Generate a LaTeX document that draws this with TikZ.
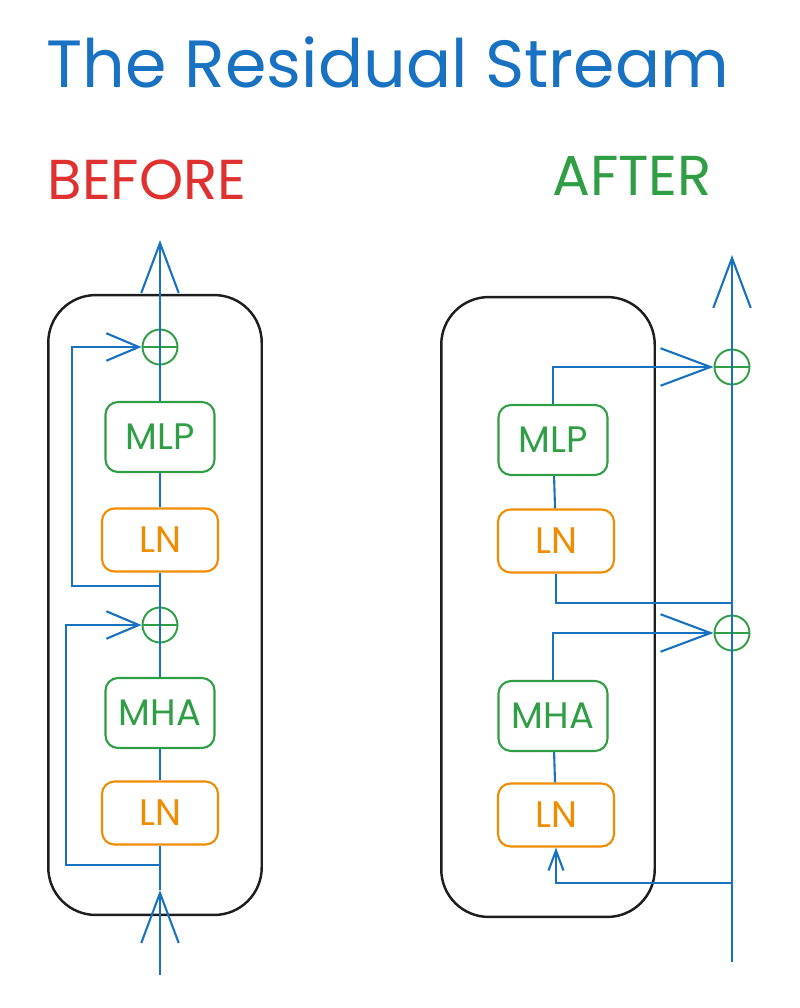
\documentclass[tikz,border=0pt]{standalone}
\usepackage{fontspec}
\setmainfont{Poppins}
\usetikzlibrary{arrows.meta}

\definecolor{exblue}{HTML}{1971C2}
\definecolor{exgreen}{HTML}{2F9E44}
\definecolor{exorange}{HTML}{F08C00}
\definecolor{exred}{HTML}{E03131}
\definecolor{exblack}{HTML}{1E1E1E}

\begin{document}
\begin{tikzpicture}[
    x=0.02cm, y=-0.02cm,
    block/.style={rectangle, draw, rounded corners=0.25cm, line width=1.2pt, font=\fontsize{21}{24}\selectfont, align=center},
    sublayer/.style={block, draw=exgreen, text=exgreen, minimum width=2.18cm, minimum height=1.4cm},
    norm/.style={block, draw=exorange, text=exorange, minimum width=2.32cm, minimum height=1.26cm},
    plus/.style={circle, draw=exgreen, line width=1.1pt, minimum size=0.7cm, inner sep=0pt,
        path picture={\draw[exgreen, line width=1.1pt] (path picture bounding box.north) -- (path picture bounding box.south)
            (path picture bounding box.west) -- (path picture bounding box.east);}},
    layer/.style={rectangle, draw=exblack, line width=1.4pt, rounded corners=0.95cm, minimum width=4.27cm, minimum height=12.4cm},
    flow/.style={draw=exblue, line width=1.2pt},
    bigarrow/.style={flow, -{Straight Barb[length=1cm, width=0.75cm]}},
    smallarrow/.style={flow, -{Straight Barb[length=0.65cm, width=0.55cm]}},
    tinyarrow/.style={flow, -{Straight Barb[length=0.4cm, width=0.3cm]}}
]
    \useasboundingbox (0,0) rectangle (799,1008);

    \node[text=exblue, font=\fontsize{38}{44}\selectfont] (title) at (388,62) {The Residual Stream};
    \node[text=exred, font=\fontsize{32}{36}\selectfont] (before) at (147,180) {BEFORE};
    \node[text=exgreen, font=\fontsize{32}{36}\selectfont] (after) at (632,176) {AFTER};

    % before: residual stream inside the block
    \node[layer] (blockL) at (155,605) {};
    \node[norm] (lnL1) at (160,813) {LN};
    \node[sublayer] (mhaL) at (160,713) {MHA};
    \node[plus] (plusL1) at (160,625) {};
    \node[norm] (lnL2) at (160,540) {LN};
    \node[sublayer] (mlpL) at (160,437) {MLP};
    \node[plus] (plusL2) at (160,347) {};
    \coordinate (inL) at (160,975);
    \coordinate (tipL) at (160,890);
    \coordinate (outL) at (160,240);
    \coordinate (skipL1) at (160,865);
    \coordinate (skipL2) at (160,586);

    \draw[bigarrow] (inL) -- (tipL);
    \draw[flow] (tipL) -- (lnL1);
    \draw[flow] (lnL1) -- (mhaL);
    \draw[flow] (mhaL) -- (plusL1.center);
    \draw[flow] (plusL1.center) -- (lnL2);
    \draw[flow] (lnL2) -- (mlpL);
    \draw[flow] (mlpL) -- (plusL2.center);
    \draw[bigarrow] (plusL2.center) -- (outL);
    \draw[smallarrow] (skipL1) -- ++(-94,0) |- (plusL1);
    \draw[smallarrow] (skipL2) -- ++(-88,0) |- (plusL2);

    % after: residual stream outside the block
    \node[layer] (blockR) at (548,607) {};
    \node[norm] (lnR1) at (556,815) {LN};
    \node[sublayer] (mhaR) at (553,716) {MHA};
    \node[norm] (lnR2) at (556,541) {LN};
    \node[sublayer] (mlpR) at (553,440) {MLP};
    \node[plus] (plusR1) at (732,633) {};
    \node[plus] (plusR2) at (732,367) {};
    \coordinate (inR) at (732,962);
    \coordinate (outR) at (732,255);
    \coordinate (tapR1) at (732,883);
    \coordinate (tapR2) at (732,603);

    \draw[bigarrow] (inR) -- (plusR1.center) -- (plusR2.center) -- (outR);
    \draw[tinyarrow] (tapR1) -| (lnR1);
    \draw[flow] (lnR1) -- (mhaR);
    \draw[bigarrow] (mhaR) |- (plusR1);
    \draw[flow] (tapR2) -| (lnR2);
    \draw[flow] (lnR2) -- (mlpR);
    \draw[bigarrow] (mlpR) |- (plusR2);
\end{tikzpicture}
\end{document}
